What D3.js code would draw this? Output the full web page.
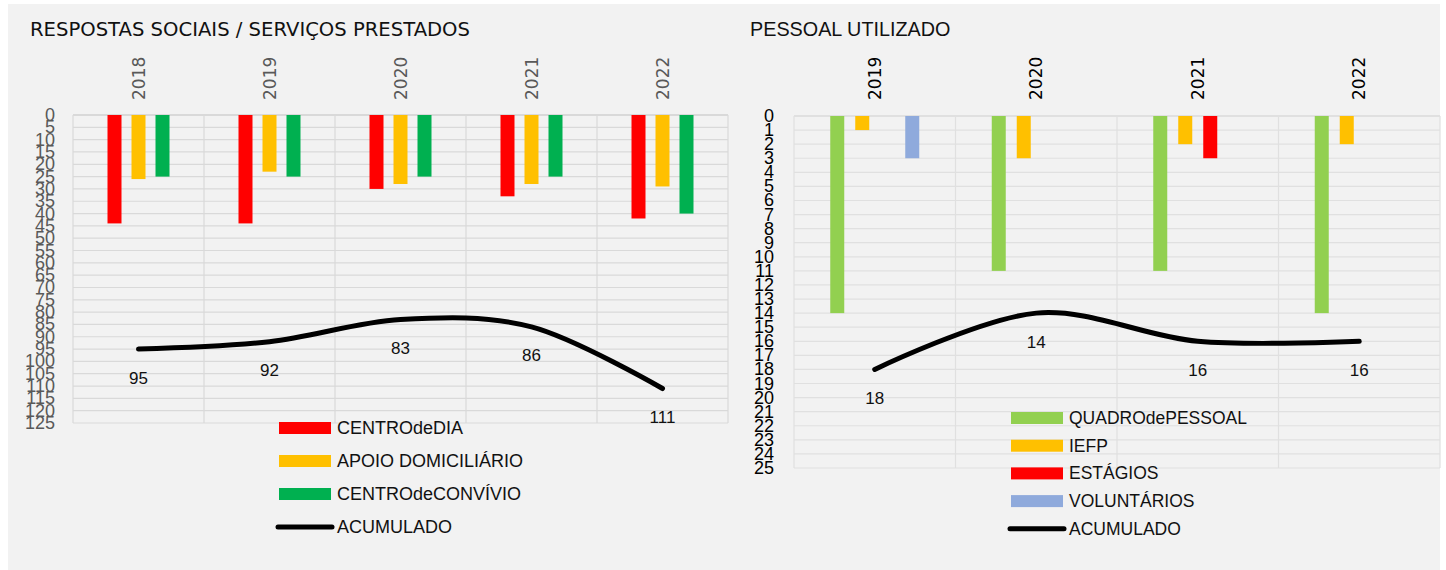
<!DOCTYPE html>
<html lang="pt">
<head>
  <meta charset="UTF-8">
  <title>Respostas sociais / Pessoal utilizado</title>
  <script src="https://cdn.jsdelivr.net/npm/d3@7"></script>
  <style>
    body { margin: 0; background: #fff; }
    svg { display: block; }
  </style>
</head>
<body>
  <svg id="chart" width="1446" height="570"></svg>
<script>
  // left chart data
  var leftYears = ["2018", "2019", "2020", "2021", "2022"];
  var centroDia = [44, 44, 30, 33, 42];
  var apoioDomiciliario = [26, 23, 28, 28, 29];
  var centroConvivio = [25, 25, 25, 25, 40];
  var acumuladoLeft = [95, 92, 83, 86, 111];
  var leftTicks = d3.range(0, 130, 5);

  // right chart data
  var rightYears = ["2019", "2020", "2021", "2022"];
  var quadroPessoal = [14, 11, 11, 14];
  var iefp = [1, 3, 2, 2];
  var estagios = [0, 0, 3, 0];
  var voluntarios = [3, 0, 0, 0];
  var acumuladoRight = [18, 14, 16, 16];
  var rightTicks = d3.range(0, 26, 1);

  var svg = d3.select("#chart");

  // gray panel
  svg.append("rect")
    .attr("x", 8).attr("y", 4)
    .attr("width", 1432).attr("height", 566)
    .attr("fill", "#f2f2f2");

  function drawChart(cfg) {
    var g = svg.append("g");

    var x = d3.scaleBand().domain(cfg.years).range([cfg.left, cfg.right]);
    var y = d3.scaleLinear().domain([0, cfg.max]).range([cfg.top, cfg.bottom]);
    var inner = d3.scaleBand()
      .domain(cfg.series.map(function(s) { return s.name; }))
      .range([-cfg.step * cfg.series.length / 2, cfg.step * cfg.series.length / 2])
      .paddingInner(cfg.gap / cfg.step)
      .paddingOuter(cfg.gap / cfg.step / 2);

    // horizontal gridlines
    g.selectAll(".hgrid").data(cfg.ticks).enter().append("line")
      .attr("x1", cfg.left).attr("x2", cfg.right)
      .attr("y1", function(d) { return y(d); })
      .attr("y2", function(d) { return y(d); })
      .attr("stroke", cfg.gridColor)
      .attr("stroke-width", function(d) { return d === 0 ? 2 : 1.2; });

    // vertical gridlines on category boundaries
    var bounds = cfg.years.map(function(d) { return x(d); }).concat([cfg.right]);
    g.selectAll(".vgrid").data(bounds).enter().append("line")
      .attr("x1", function(d) { return d; }).attr("x2", function(d) { return d; })
      .attr("y1", cfg.top).attr("y2", cfg.bottom)
      .attr("stroke", cfg.gridColor)
      .attr("stroke-width", 1.2);

    // y axis labels (they overlap in the original too)
    g.selectAll(".ylab").data(cfg.ticks).enter().append("text")
      .attr("x", cfg.labelX)
      .attr("y", function(d) { return y(d); })
      .attr("text-anchor", "end")
      .attr("dominant-baseline", "central")
      .attr("font-family", "Liberation Sans, Arial, sans-serif")
      .attr("font-size", 18)
      .attr("fill", cfg.axisColor)
      .text(function(d) { return d; });

    // year labels rotated
    g.selectAll(".xlab").data(cfg.years).enter().append("text")
      .attr("transform", function(d) {
        return "translate(" + (x(d) + x.bandwidth() / 2) + ",100) rotate(-90)";
      })
      .attr("dominant-baseline", "central")
      .attr("font-family", "DejaVu Sans, Verdana, sans-serif")
      .attr("font-size", 17)
      .attr("fill", cfg.yearColor)
      .text(function(d) { return d; });

    // bars
    cfg.series.forEach(function(s) {
      g.selectAll(null).data(cfg.years).enter().append("rect")
        .attr("x", function(d) { return x(d) + x.bandwidth() / 2 + inner(s.name); })
        .attr("y", y(0))
        .attr("width", inner.bandwidth())
        .attr("height", function(d, i) { return y(s.values[i]) - y(0); })
        .attr("fill", s.color);
    });

    // accumulated line
    var line = d3.line()
      .x(function(d, i) { return x(cfg.years[i]) + x.bandwidth() / 2; })
      .y(function(d) { return y(d); })
      .curve(d3.curveCardinal.tension(0));

    g.append("path")
      .datum(cfg.total)
      .attr("d", line)
      .attr("fill", "none")
      .attr("stroke", "#000")
      .attr("stroke-width", 5)
      .attr("stroke-linecap", "round");

    g.selectAll(".tlab").data(cfg.total).enter().append("text")
      .attr("x", function(d, i) { return x(cfg.years[i]) + x.bandwidth() / 2; })
      .attr("y", function(d) { return y(d) + 29; })
      .attr("text-anchor", "middle")
      .attr("dominant-baseline", "central")
      .attr("font-family", "Liberation Sans, Arial, sans-serif")
      .attr("font-size", 17)
      .attr("fill", "#111")
      .text(function(d) { return d; });

    // title
    g.append("text")
      .attr("x", cfg.titleX).attr("y", 36)
      .attr("font-family", cfg.titleFont)
      .attr("font-size", cfg.titleSize)
      .attr("fill", "#111")
      .text(cfg.title);

    // legend
    var items = cfg.series.map(function(s) { return { name: s.name, color: s.color, line: false }; })
      .concat([{ name: "ACUMULADO", color: "#000", line: true }]);

    var leg = g.selectAll(".leg").data(items).enter().append("g")
      .attr("transform", function(d, i) {
        return "translate(" + cfg.legendX + "," + (cfg.legendY + i * cfg.legendStep) + ")";
      });

    leg.filter(function(d) { return !d.line; }).append("rect")
      .attr("x", 0).attr("y", -6)
      .attr("width", 52).attr("height", 12)
      .attr("fill", function(d) { return d.color; });

    leg.filter(function(d) { return d.line; }).append("line")
      .attr("x1", -1).attr("x2", 53)
      .attr("y1", 0).attr("y2", 0)
      .attr("stroke", "#000")
      .attr("stroke-width", 5)
      .attr("stroke-linecap", "round");

    leg.append("text")
      .attr("x", 58).attr("y", 0)
      .attr("dominant-baseline", "central")
      .attr("font-family", "Liberation Sans, Arial, sans-serif")
      .attr("font-size", cfg.legendSize)
      .attr("fill", "#111")
      .text(function(d) { return d.name; });
  }

  drawChart({
    title: "RESPOSTAS SOCIAIS / SERVIÇOS PRESTADOS",
    titleX: 30, titleFont: "DejaVu Sans, Verdana, sans-serif", titleSize: 19.6,
    years: leftYears,
    left: 73, right: 728, top: 115, bottom: 423,
    max: 125, ticks: leftTicks,
    labelX: 55, axisColor: "#595959", yearColor: "#595959",
    gridColor: "#d9d9d9",
    step: 24, gap: 10,
    series: [
      { name: "CENTROdeDIA", values: centroDia, color: "#ff0000" },
      { name: "APOIO DOMICILIÁRIO", values: apoioDomiciliario, color: "#ffc000" },
      { name: "CENTROdeCONVÍVIO", values: centroConvivio, color: "#00b050" }
    ],
    total: acumuladoLeft,
    legendX: 279, legendY: 428, legendStep: 33, legendSize: 18
  });

  drawChart({
    title: "PESSOAL UTILIZADO",
    titleX: 750, titleFont: "Liberation Sans, Arial, sans-serif", titleSize: 19.8,
    years: rightYears,
    left: 794, right: 1440, top: 116, bottom: 468,
    max: 25, ticks: rightTicks,
    labelX: 774, axisColor: "#000", yearColor: "#000",
    gridColor: "#e0e0e0",
    step: 25, gap: 11,
    series: [
      { name: "QUADROdePESSOAL", values: quadroPessoal, color: "#92d050" },
      { name: "IEFP", values: iefp, color: "#ffc000" },
      { name: "ESTÁGIOS", values: estagios, color: "#ff0000" },
      { name: "VOLUNTÁRIOS", values: voluntarios, color: "#8faadc" }
    ],
    total: acumuladoRight,
    legendX: 1011, legendY: 418, legendStep: 27.7, legendSize: 17.5
  });
</script>
</body>
</html>
